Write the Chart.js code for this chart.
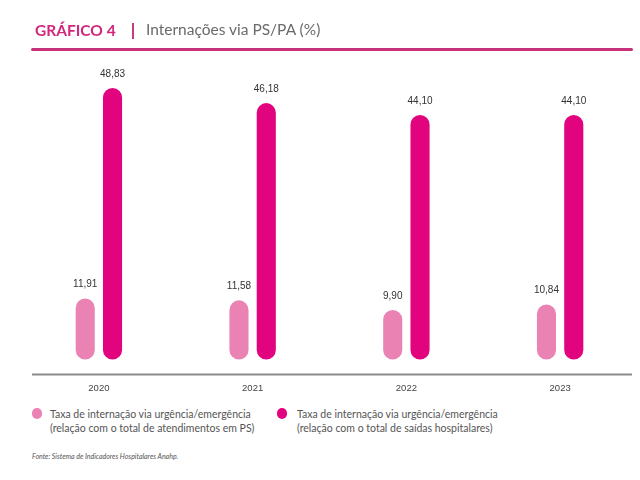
<!DOCTYPE html>
<html>
<head>
<meta charset="utf-8">
<script src="https://cdn.jsdelivr.net/npm/chart.js@4"></script>
<style>
  body { margin: 0; background: #fff; }
  #wrap { position: relative; width: 640px; height: 480px; overflow: hidden; font-family: Lato, "Liberation Sans", sans-serif; }
  #chartBox { position: absolute; left: 0; top: 0; width: 640px; height: 401px; }
  .abs { position: absolute; white-space: nowrap; }
  #t1 { left: 35px; top: 21px; font-size: 15.5px; font-weight: 700; color: #d3277c; }
  #sep { left: 132px; top: 23px; width: 2px; height: 16px; background: #c93a7e; }
  #t2 { left: 146px; top: 20px; font-size: 15.5px; color: #6a6a6a; }
  #hr { left: 31px; top: 48px; width: 602px; height: 3px; background: #c9317a; border-radius: 2px; }
  .leg { top: 407px; font-size: 10.5px; line-height: 14px; color: #555; }
  .mk { position: absolute; width: 10px; height: 11px; border-radius: 5px; top: 408px; }
  #src { left: 32px; top: 452px; font-size: 7px; font-style: italic; color: #555; }
</style>
</head>
<body>
<div id="wrap">
  <div id="chartBox"><canvas id="barChart"></canvas></div>
  <div class="abs" id="t1">GRÁFICO 4</div>
  <div class="abs" id="sep"></div>
  <div class="abs" id="t2">Internações via PS/PA (%)</div>
  <div class="abs" id="hr"></div>
  <div class="mk" style="left:32px;background:#eb82b4"></div>
  <div class="abs leg" style="left:50px">Taxa de internação via urgência/emergência<br>(relação com o total de atendimentos em PS)</div>
  <div class="mk" style="left:277px;background:#e2037f"></div>
  <div class="abs leg" style="left:297px">Taxa de internação via urgência/emergência<br>(relação com o total de saídas hospitalares)</div>
  <div class="abs" id="src">Fonte: Sistema de Indicadores Hospitalares Anahp.</div>
</div>
<script>
const years = ["2020", "2021", "2022", "2023"];
const taxaPS = [11.91, 11.58, 9.90, 10.84];
const taxaSaidas = [48.83, 46.18, 44.10, 44.10];

const fmt = (v) => v.toFixed(2).replace(".", ",");

// value labels above each bar + the grey baseline
const barLabels = {
  id: "barLabels",
  afterDatasetsDraw(chart) {
    const c = chart.ctx;
    c.save();
    c.font = "10px 'Liberation Sans', sans-serif";
    c.fillStyle = "#333";
    c.textAlign = "center";
    c.textBaseline = "middle";
    chart.data.datasets.forEach((ds, i) => {
      chart.getDatasetMeta(i).data.forEach((bar, j) => {
        c.fillText(fmt(ds.data[j]), bar.x, bar.y - 14);
      });
    });
    const y = chart.chartArea.bottom + 1;
    c.strokeStyle = "#8a8a8a";
    c.lineWidth = 2;
    c.beginPath();
    c.moveTo(32, y);
    c.lineTo(632, y);
    c.stroke();
    c.restore();
  },
};

const ctx = document.getElementById("barChart").getContext("2d");

new Chart(ctx, {
  type: "bar",
  data: {
    labels: years,
    datasets: [
      {
        label: "Taxa de internação via urgência/emergência (relação com o total de atendimentos em PS)",
        data: taxaPS,
        backgroundColor: "#eb82b4",
        base: 1.2,
        borderRadius: 10,
        borderSkipped: false,
      },
      {
        label: "Taxa de internação via urgência/emergência (relação com o total de saídas hospitalares)",
        data: taxaSaidas,
        backgroundColor: "#e2037f",
        base: 1.2,
        borderRadius: 10,
        borderSkipped: false,
      },
    ],
  },
  options: {
    responsive: true,
    maintainAspectRatio: false,
    animation: false,
    categoryPercentage: 0.355,
    barPercentage: 0.7,
    layout: { padding: { left: 22, right: 3, top: 60, bottom: 6 } },
    scales: {
      x: {
        grid: { display: false },
        border: { display: false },
        ticks: {
          color: "#444",
          padding: 1,
          font: { family: "'Liberation Sans', sans-serif", size: 9.5 },
        },
      },
      y: {
        display: false,
        min: -1.27,
        max: 53.74,
      },
    },
    plugins: {
      legend: { display: false },
      title: { display: false },
      tooltip: { enabled: false },
    },
  },
  plugins: [barLabels],
});
</script>
</body>
</html>
